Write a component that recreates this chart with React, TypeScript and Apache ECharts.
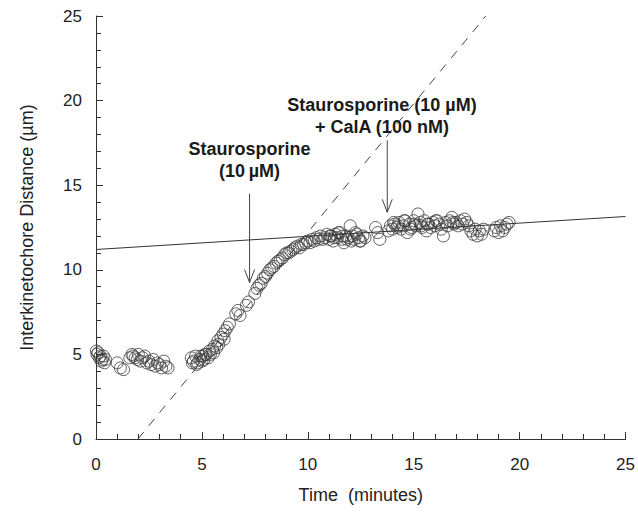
import React, { useEffect, useRef } from "react";
import * as echarts from "echarts";

// Observed points: time (minutes) and interkinetochore distance (µm)
const timeEarly = [0.02, 0.05, 0.1, 0.15, 0.2, 0.25, 0.3, 0.35, 0.4, 0.45, 1.0, 1.15, 1.3,
  1.6, 1.7, 1.75, 1.85, 1.95, 2.0, 2.1, 2.2, 2.3, 2.4, 2.5, 2.6, 2.7, 2.8, 2.9, 3.0, 3.1, 3.2, 3.3, 3.4];
const distEarly = [5.2, 5.0, 5.1, 4.8, 4.9, 4.6, 4.7, 4.9, 4.5, 4.7, 4.5, 4.2, 4.1,
  4.8, 5.0, 4.9, 4.8, 4.7, 5.0, 4.6, 4.8, 4.9, 4.5, 4.6, 4.4, 4.7, 4.3, 4.5, 4.4, 4.2, 4.6, 4.3, 4.2];

const timeRise = [4.5, 4.55, 4.6, 4.7, 4.75, 4.8, 4.9, 4.95, 5.0, 5.05, 5.1, 5.15, 5.2, 5.3, 5.35, 5.4,
  5.5, 5.55, 5.6, 5.7, 5.75, 5.8, 5.9, 6.0, 6.05, 6.1, 6.2, 6.3, 6.6, 6.7, 6.8, 7.1, 7.2,
  7.5, 7.6, 7.7, 7.8, 7.9, 8.0, 8.1, 8.2, 8.3, 8.4, 8.5, 8.6, 8.7, 8.8, 8.9, 9.0, 9.1, 9.2,
  9.3, 9.4, 9.5, 9.6, 9.7, 9.8, 9.9, 10.0, 10.1, 10.2, 10.3, 10.4, 10.5, 10.6, 10.7];
const distRise = [4.8, 4.5, 4.6, 4.9, 4.4, 4.5, 4.7, 4.9, 4.6, 4.9, 4.7, 5.0, 5.0, 4.8, 5.2, 5.0,
  5.3, 5.1, 5.5, 5.4, 5.8, 5.6, 6.0, 6.2, 5.9, 6.4, 6.6, 6.8, 7.4, 7.6, 7.3, 7.9, 8.1,
  8.6, 8.9, 9.1, 9.2, 9.5, 9.6, 9.8, 10.0, 10.1, 10.2, 10.4, 10.5, 10.6, 10.7, 10.9, 11.0, 11.0, 11.1,
  11.2, 11.3, 11.4, 11.3, 11.5, 11.5, 11.6, 11.7, 11.6, 11.8, 11.7, 11.9, 11.8, 12.0, 11.8];

const timePlateau = [10.8, 10.9, 11.0, 11.05, 11.1, 11.2, 11.25, 11.3, 11.4, 11.45, 11.5, 11.6, 11.65,
  11.7, 11.8, 11.85, 11.9, 12.0, 12.05, 12.1, 12.2, 12.25, 12.3, 12.4, 12.45, 12.5, 12.6, 12.7,
  13.2, 13.3, 13.4];
const distPlateau = [11.9, 12.1, 11.8, 12.0, 12.0, 11.7, 11.9, 12.1, 11.9, 12.2, 12.2, 11.8, 12.0,
  11.6, 12.0, 11.8, 11.9, 12.6, 11.7, 12.0, 11.8, 12.2, 12.1, 11.9, 11.7, 11.7, 12.0, 11.9,
  12.5, 12.2, 11.8];

const timeLate = [13.8, 13.9, 14.0, 14.05, 14.1, 14.2, 14.25, 14.3, 14.4, 14.5, 14.55, 14.6, 14.7, 14.8,
  14.85, 14.9, 15.0, 15.05, 15.1, 15.2, 15.3, 15.35, 15.4, 15.5, 15.6, 15.65, 15.7, 15.8, 15.9,
  16.0, 16.05, 16.1, 16.2, 16.3, 16.4, 16.5, 16.6, 16.7, 16.8, 16.85, 16.9, 17.0, 17.1, 17.2,
  17.3, 17.4, 17.5, 17.6, 17.7, 17.8, 17.9, 18.0, 18.1, 18.2, 18.3,
  18.8, 18.9, 19.0, 19.1, 19.2, 19.3, 19.4, 19.5];
const distLate = [12.3, 12.6, 12.4, 12.8, 12.7, 12.5, 12.6, 12.8, 12.4, 12.6, 12.9, 12.9, 12.2, 12.7,
  12.4, 12.5, 12.9, 12.7, 12.6, 13.3, 12.8, 12.6, 12.5, 12.9, 12.3, 12.7, 12.7, 12.5, 12.8,
  12.6, 12.9, 12.9, 12.7, 12.4, 12.0, 12.8, 12.6, 12.9, 13.1, 12.8, 12.7, 12.8, 12.6, 12.9,
  12.7, 13.0, 12.8, 12.6, 12.3, 12.1, 12.4, 12.0, 12.3, 12.1, 12.4,
  12.3, 12.5, 12.2, 12.6, 12.3, 12.5, 12.7, 12.8];

// Fitted lines (end points)
const plateauFitX = [0, 25];
const plateauFitY = [11.2, 13.15];
const riseFitX = [1.98, 18.4];
const riseFitY = [0, 25];

// Arrow annotations: x, arrow top y, arrow tip y, text x, text bottom y
const arrowX = [7.25, 13.75];
const arrowTopY = [14.5, 17.65];
const arrowTipY = [9.25, 13.4];
const labelX = [7.25, 13.5];
const labelY = [15.17, 17.77];
const labelTexts = ["Staurosporine\n(10\u2009\u00b5M)", "Staurosporine (10 \u00b5M)\n+ CalA (100 nM)"];

const xTicks = [0, 5, 10, 15, 20, 25];
const yTicks = [0, 5, 10, 15, 20, 25];

function zip(a: number[], b: number[]) {
  return a.map((v, i) => [v, b[i]]);
}

export default function App() {
  const ref = useRef<HTMLDivElement>(null);
  useEffect(() => {
    document.body.style.margin = "0";
    if (!ref.current) return;
    const chart = echarts.init(ref.current, null, { renderer: "svg" });
    const font = "'Liberation Sans', Arial, sans-serif";
    const points = [
      ...zip(timeEarly, distEarly),
      ...zip(timeRise, distRise),
      ...zip(timePlateau, distPlateau),
      ...zip(timeLate, distLate),
    ];
    const axisCommon = {
      type: "value",
      min: 0,
      max: 25,
      interval: 5,
      axisLine: { show: true, lineStyle: { color: "#333", width: 1 } },
      axisTick: { show: true, inside: true, length: 7, lineStyle: { color: "#333" } },
      minorTick: { show: true, splitNumber: 5, length: 5, lineStyle: { color: "#333" } },
      splitLine: { show: false },
      minorSplitLine: { show: false },
      nameLocation: "middle",
      nameTextStyle: { fontFamily: font, fontSize: 18, color: "#222" },
    };
    chart.setOption({
      animation: false,
      backgroundColor: "#fff",
      grid: { left: 96, right: 11, top: 16, bottom: 76 },
      xAxis: {
        ...axisCommon,
        name: "Time  (minutes)",
        nameGap: 47,
        axisLabel: {
          fontFamily: font, fontSize: 17, color: "#222", margin: 17,
          formatter: (v: number) => (xTicks.includes(v) ? String(v) : ""),
        },
      },
      yAxis: {
        ...axisCommon,
        name: "Interkinetochore Distance (\u00b5m)",
        nameGap: 60,
        axisLabel: {
          fontFamily: font, fontSize: 17, color: "#222", margin: 14,
          formatter: (v: number) => (yTicks.includes(v) ? String(v) : ""),
        },
      },
      series: [
        {
          type: "line",
          data: zip(plateauFitX, plateauFitY),
          symbol: "none",
          lineStyle: { color: "#333", width: 1 },
          silent: true,
          z: 3,
        },
        {
          type: "line",
          data: zip(riseFitX, riseFitY),
          symbol: "none",
          lineStyle: { color: "#444", width: 1, type: [9, 8] },
          silent: true,
          z: 3,
        },
        {
          type: "scatter",
          data: points,
          symbol: "circle",
          symbolSize: 12,
          itemStyle: { color: "rgba(0,0,0,0)", borderColor: "#3a3a3a", borderWidth: 1 },
          silent: true,
          z: 4,
        },
        {
          type: "custom",
          clip: false,
          silent: true,
          z: 5,
          data: arrowX.map((x, i) => [x, arrowTopY[i], arrowTipY[i], labelX[i], labelY[i]]),
          renderItem: (params: any, api: any) => {
            const top = api.coord([api.value(0), api.value(1)]);
            const tip = api.coord([api.value(0), api.value(2)]);
            const tp = api.coord([api.value(3), api.value(4)]);
            return {
              type: "group",
              children: [
                {
                  type: "line",
                  shape: { x1: top[0], y1: top[1], x2: tip[0], y2: tip[1] },
                  style: { stroke: "#444", lineWidth: 1 },
                },
                {
                  type: "polyline",
                  shape: { points: [[tip[0] - 5, tip[1] - 13], [tip[0], tip[1]], [tip[0] + 5, tip[1] - 13]] },
                  style: { stroke: "#444", fill: null, lineWidth: 1 },
                },
                {
                  type: "text",
                  x: tp[0],
                  y: tp[1],
                  style: {
                    text: labelTexts[params.dataIndex],
                    fontFamily: font,
                    fontWeight: "bold",
                    fontSize: 18,
                    lineHeight: 22,
                    fill: "#1a1a1a",
                    align: "center",
                    verticalAlign: "bottom",
                  },
                },
              ],
            };
          },
        },
      ],
    });
    return () => chart.dispose();
  }, []);
  return <div ref={ref} style={{ width: 638, height: 515 }} />;
}
